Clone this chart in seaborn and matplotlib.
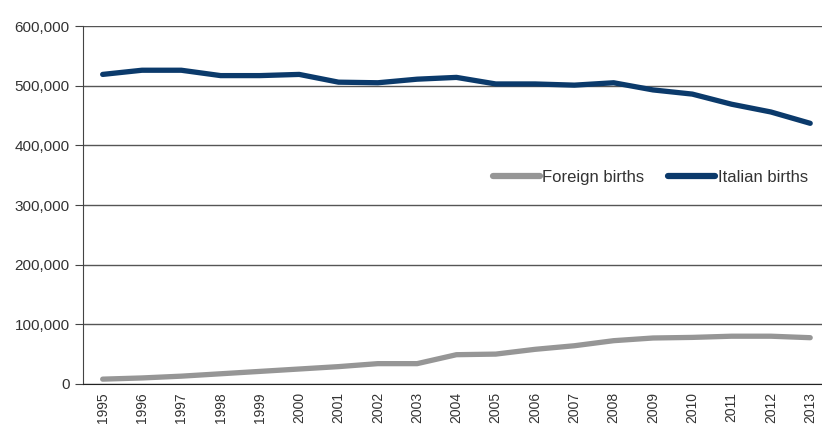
import matplotlib.pyplot as plt
import pandas as pd
import seaborn as sns
from matplotlib.ticker import FuncFormatter

years = list(range(1995, 2014))
foreign = [8000, 10000, 13000, 17000, 21000, 25000, 29000, 34000, 34000, 49000,
           50000, 58000, 64000, 72500, 77000, 78000, 80000, 80000, 77500]
italian = [519000, 526000, 526000, 517000, 517000, 519000, 506000, 505000, 511000, 514000,
           503000, 503000, 501000, 505000, 493000, 486000, 469000, 456000, 437000]

df = pd.DataFrame({'Year': [str(y) for y in years],
                   'Foreign births': foreign,
                   'Italian births': italian})
long = pd.melt(df, ['Year'], var_name='Series', value_name='Births')

sns.set_style('white')
plt.rcParams['font.family'] = ['Liberation Sans', 'DejaVu Sans']

fig = plt.figure(figsize=(8.22, 4.28), dpi=100)
ax = fig.add_axes([0.101, 0.103, 0.899, 0.836])

plot = sns.lineplot(data=long, x='Year', y='Births', hue='Series',
                    palette={'Foreign births': '#969696', 'Italian births': '#0b3a6b'},
                    linewidth=3.8, solid_capstyle='round', ax=ax)

ax.set_ylim(0, 600000)
ax.set_xlim(-0.5, 18.3)
ax.set_yticks(range(0, 600001, 100000))
ax.yaxis.set_major_formatter(FuncFormatter(lambda v, p: f'{int(v):,}'))
ax.grid(axis='y', color='#555555', linewidth=1)
ax.set_axisbelow(True)
ax.set_xlabel('')
ax.set_ylabel('')

for s in ['top', 'right']:
    ax.spines[s].set_visible(False)
ax.spines['left'].set_color('#444444')
ax.spines['bottom'].set_color('#222222')

ax.tick_params(axis='y', length=6, color='#444444', labelsize=11, labelcolor='#333333', left=True)
ax.tick_params(axis='x', length=0, labelsize=10, labelcolor='#333333', rotation=90, pad=6)

leg = ax.legend(loc='center right', bbox_to_anchor=(0.992, 0.578), ncol=2, frameon=False,
                fontsize=12, handlelength=2.8, columnspacing=1.45, handletextpad=0.15, borderpad=0)
for line in leg.get_lines():
    line.set_linewidth(4.5)
    line.set_solid_capstyle('round')
for t in leg.get_texts():
    t.set_color('#333333')

plt.savefig('out.png', dpi=100)
